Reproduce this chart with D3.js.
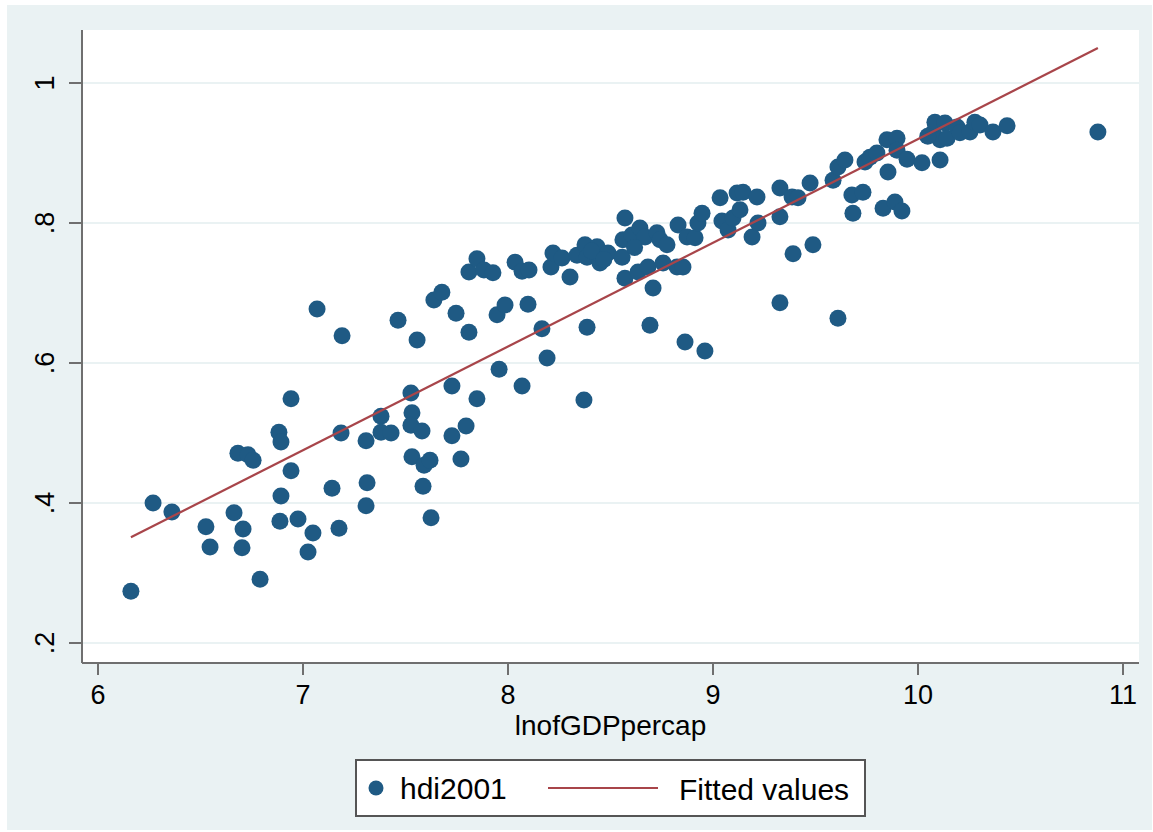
<!DOCTYPE html>
<html>
<head>
<meta charset="utf-8">
<script src="https://cdn.jsdelivr.net/npm/d3@7"></script>
<style>
  body { margin: 0; background: #ffffff; }
  text { font-family: "Liberation Sans", Arial, Helvetica, sans-serif; fill: #000; }
</style>
</head>
<body>
<svg width="1153" height="832"></svg>
<script>
/*
 * Values: ln of GDP per capita against hdi2001
 */
var lnGdp = [6.163, 6.271, 6.363, 6.529, 6.549, 6.666, 6.685, 6.705, 6.710, 6.734,
  6.759, 6.793, 6.885, 6.895, 6.895, 6.890, 6.944, 6.944, 6.978, 7.027,
  7.051, 7.071, 7.144, 7.188, 7.178, 7.193, 7.310, 7.315, 7.310, 7.383,
  7.383, 7.432, 7.466, 7.529, 7.534, 7.529, 7.534, 7.559, 7.583, 7.593,
  7.588, 7.622, 7.627, 7.641, 7.680, 7.729, 7.729, 7.749, 7.773, 7.798,
  7.812, 7.812, 7.851, 7.851, 7.885, 7.929, 7.949, 7.959, 7.988, 8.037,
  8.071, 8.071, 8.105, 8.100, 8.168, 8.193, 8.212, 8.222, 8.266, 8.305,
  8.339, 8.373, 8.378, 8.388, 8.388, 8.437, 8.451, 8.490, 8.559, 8.563,
  8.573, 8.573, 8.607, 8.637, 8.646, 8.671, 8.685, 8.695, 8.710, 8.729,
  8.744, 8.759, 8.778, 8.827, 8.832, 8.856, 8.866, 8.876, 8.915, 8.929,
  8.949, 8.963, 9.037, 9.046, 9.076, 9.100, 9.120, 9.149, 9.134, 9.193,
  9.217, 9.222, 9.329, 9.329, 9.329, 9.388, 9.393, 9.417, 9.476, 9.490,
  9.588, 9.612, 9.612, 9.646, 9.680, 9.685, 9.734, 9.744, 9.768, 9.802,
  9.832, 9.851, 9.856, 9.890, 9.900, 9.900, 9.924, 9.949, 10.022, 10.076,
  10.085, 10.110, 10.110, 10.134, 10.144, 10.193, 10.207, 10.256, 10.280, 10.305,
  10.368, 10.437, 10.880, 8.410, 8.470, 8.620, 10.050];

var hdi2001 = [0.274, 0.400, 0.387, 0.366, 0.337, 0.386, 0.471, 0.336, 0.363, 0.469,
  0.461, 0.291, 0.501, 0.487, 0.410, 0.374, 0.549, 0.446, 0.377, 0.330,
  0.357, 0.677, 0.421, 0.500, 0.364, 0.639, 0.489, 0.429, 0.396, 0.524,
  0.501, 0.500, 0.661, 0.557, 0.529, 0.511, 0.466, 0.633, 0.503, 0.454,
  0.424, 0.461, 0.379, 0.690, 0.701, 0.567, 0.496, 0.671, 0.463, 0.510,
  0.644, 0.730, 0.749, 0.549, 0.733, 0.729, 0.669, 0.591, 0.683, 0.744,
  0.731, 0.567, 0.733, 0.684, 0.649, 0.607, 0.737, 0.757, 0.750, 0.723,
  0.754, 0.547, 0.769, 0.751, 0.651, 0.766, 0.743, 0.757, 0.751, 0.776,
  0.807, 0.721, 0.783, 0.730, 0.793, 0.780, 0.737, 0.654, 0.707, 0.786,
  0.776, 0.743, 0.769, 0.737, 0.797, 0.737, 0.630, 0.780, 0.779, 0.800,
  0.814, 0.617, 0.836, 0.803, 0.790, 0.807, 0.843, 0.844, 0.819, 0.780,
  0.837, 0.800, 0.850, 0.809, 0.686, 0.837, 0.756, 0.836, 0.857, 0.769,
  0.861, 0.880, 0.664, 0.890, 0.840, 0.814, 0.844, 0.887, 0.894, 0.900,
  0.821, 0.919, 0.873, 0.830, 0.921, 0.904, 0.817, 0.891, 0.886, 0.929,
  0.944, 0.919, 0.890, 0.943, 0.921, 0.937, 0.929, 0.930, 0.944, 0.940,
  0.930, 0.939, 0.930, 0.760, 0.748, 0.765, 0.924];

/*
 * Fitted values, the two ends of the red line
 */
var fitX = [6.163, 10.880],
    fitY = [0.351, 1.050];

var xTicks = [6, 7, 8, 9, 10, 11],
    yTicks = [0.2, 0.4, 0.6, 0.8, 1],
    yTickLabels = [".2", ".4", ".6", ".8", "1"];

var svg = d3.select("svg"),
    width = +svg.attr("width"),
    height = +svg.attr("height"),
    bgColor = "#eaf2f3",
    dotColor = "#1f5a84",
    lineColor = "#a8454a",
    axisColor = "#6f6f6f",
    plot = {left: 82, top: 30, right: 1139, bottom: 663};

/*
 * Scales: 6..11 and .2..1 land where the ticks sit in the picture
 */
var x = d3.scaleLinear().domain([6, 11]).range([97.5, 1122.5]),
    y = d3.scaleLinear().domain([0.2, 1]).range([643, 83]);

// graph region background, then the white plot region
svg.append("rect")
    .attr("x", 7).attr("y", 5)
    .attr("width", width - 8).attr("height", height - 7)
    .attr("fill", bgColor);
svg.append("rect")
    .attr("x", plot.left).attr("y", plot.top)
    .attr("width", plot.right - plot.left).attr("height", plot.bottom - plot.top)
    .attr("fill", "#ffffff");

/*
 * Horizontal grid lines
 */
svg.append("g")
    .selectAll("line")
    .data(yTicks)
  .enter().append("line")
    .attr("x1", plot.left).attr("x2", plot.right)
    .attr("y1", function(d) { return y(d); })
    .attr("y2", function(d) { return y(d); })
    .attr("stroke", bgColor)
    .attr("stroke-width", 2);

/*
 * Axes
 */
var yAxis = svg.append("g")
    .attr("transform", "translate(" + plot.left + ",0)")
    .call(d3.axisLeft(y).tickValues(yTicks).tickSize(13).tickPadding(14)
      .tickFormat(function(d, i) { return yTickLabels[i]; }));
yAxis.select(".domain").attr("d", "M0," + plot.top + "V" + plot.bottom);
yAxis.selectAll("text")
    .attr("font-size", 27)
    .attr("text-anchor", "middle")
    .attr("dy", null)
    .attr("x", null)
    .attr("transform", function(d) { return "translate(-28," + y(d) + ") rotate(-90)"; })
    .attr("y", 0);
yAxis.selectAll(".tick").attr("transform", null);
yAxis.selectAll(".tick line")
    .attr("transform", function(d) { return "translate(0," + y(d) + ")"; });

var xAxis = svg.append("g")
    .attr("transform", "translate(0," + plot.bottom + ")")
    .call(d3.axisBottom(x).tickValues(xTicks).tickSize(12).tickPadding(10)
      .tickFormat(d3.format("d")));
xAxis.select(".domain").attr("d", "M" + plot.left + ",0H" + plot.right);
xAxis.selectAll("text").attr("font-size", 27);

svg.selectAll(".domain, .tick line")
    .attr("stroke", axisColor)
    .attr("stroke-width", 2);

svg.append("text")
    .attr("x", (plot.left + plot.right) / 2)
    .attr("y", 735)
    .attr("text-anchor", "middle")
    .attr("font-size", 28)
    .text("lnofGDPpercap");

/*
 * Scatter points
 */
svg.append("g")
    .selectAll("circle")
    .data(lnGdp)
  .enter().append("circle")
    .attr("cx", function(d) { return x(d); })
    .attr("cy", function(d, i) { return y(hdi2001[i]); })
    .attr("r", 8.5)
    .attr("fill", dotColor);

/*
 * Fitted line
 */
svg.append("path")
    .datum(fitX)
    .attr("d", d3.line()
      .x(function(d) { return x(d); })
      .y(function(d, i) { return y(fitY[i]); }))
    .attr("fill", "none")
    .attr("stroke", lineColor)
    .attr("stroke-width", 2.2);

/*
 * Legend box at the bottom
 */
var legend = svg.append("g");
legend.append("rect")
    .attr("x", 356).attr("y", 760)
    .attr("width", 509).attr("height", 56)
    .attr("fill", "#ffffff")
    .attr("stroke", "#555555")
    .attr("stroke-width", 2);
legend.append("circle")
    .attr("cx", 376).attr("cy", 788).attr("r", 7.5)
    .attr("fill", dotColor);
legend.append("text")
    .attr("x", 400).attr("y", 799)
    .attr("font-size", 30)
    .text("hdi2001");
legend.append("line")
    .attr("x1", 548).attr("x2", 658)
    .attr("y1", 788).attr("y2", 788)
    .attr("stroke", lineColor)
    .attr("stroke-width", 2.2);
legend.append("text")
    .attr("x", 679).attr("y", 800)
    .attr("font-size", 30)
    .text("Fitted values");
</script>
</body>
</html>
